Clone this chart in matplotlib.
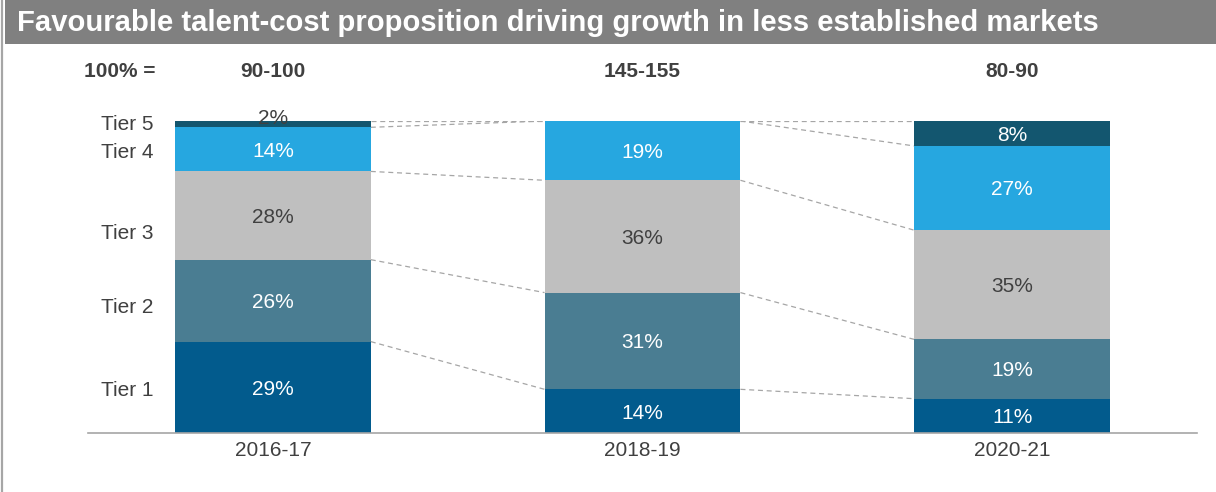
import matplotlib.pyplot as plt
from matplotlib.patches import Rectangle
from matplotlib.lines import Line2D

plt.rcParams['font.family'] = ['Liberation Sans', 'DejaVu Sans']

# data
periods = ['2016-17', '2018-19', '2020-21']
totals = ['90-100', '145-155', '80-90']
tiers = ['Tier 1', 'Tier 2', 'Tier 3', 'Tier 4', 'Tier 5']
tier1 = [29, 14, 11]
tier2 = [26, 31, 19]
tier3 = [28, 36, 35]
tier4 = [14, 19, 27]
tier5 = [2, 0, 8]
# where the tier names sit on the left (share of bar height)
tier_label_pos = [13.6, 40.1, 63.8, 89.8, 98.8]

colors = ['#025B8D', '#4A7D92', '#BFBFBF', '#26A7E0', '#13566F']
text_colors = ['white', 'white', '#404040', 'white', 'white']
TEXT = '#404040'

fig = plt.figure(figsize=(12.16, 4.92), dpi=100)

# title bar and left rule
fig.add_artist(Rectangle((5/1216, 1-44/492), 1, 44/492, transform=fig.transFigure,
						 facecolor='#808080', edgecolor='none'))
fig.add_artist(Line2D([2/1216, 2/1216], [0, 1], transform=fig.transFigure,
					  color='#A6A6A6', lw=1.6))
fig.text(17/1216, 1-23/492, 'Favourable talent-cost proposition driving growth in less established markets',
		 color='white', fontsize=21.1, fontweight='bold', va='center', ha='left')

ax = fig.add_axes([88/1216, 1-433/492, (1197-88)/1216, (433-121)/492])

series = [tier1, tier2, tier3, tier4, tier5]
n = len(periods)
x = list(range(n))
width = 0.53
sums = [sum(s[i] for s in series) for i in range(n)]

bottoms = [0.0] * n
bounds = [[0.0] for _ in range(n)]
for k, s in enumerate(series):
	h = [s[i] * 100.0 / sums[i] for i in range(n)]
	ax.bar(x, h, width=width, bottom=bottoms, color=colors[k], edgecolor='none')
	for i in range(n):
		if s[i] == 0:
			continue
		if h[i] < 4:
			ax.text(x[i], bottoms[i] + h[i] - 2.2, '%d%%' % s[i], ha='center', va='bottom',
					fontsize=15, color=TEXT)
		else:
			ax.text(x[i], bottoms[i] + h[i] / 2 - 0.6, '%d%%' % s[i], ha='center', va='center',
					fontsize=15, color=text_colors[k])
	bottoms = [bottoms[i] + h[i] for i in range(n)]
	for i in range(n):
		bounds[i].append(bottoms[i])

# dashed connectors between neighbouring bars
for i in range(n - 1):
	for b0, b1 in zip(bounds[i][1:], bounds[i + 1][1:]):
		ax.plot([x[i] + width / 2, x[i + 1] - width / 2], [b0, b1],
				color='#A6A6A6', lw=0.9, ls=(0, (4, 3)), zorder=0)

ax.set_xlim(-0.5, 2.5)
ax.set_ylim(0, 100)
ax.set_xticks(x)
ax.set_xticklabels(periods, fontsize=15, color=TEXT)
ax.set_yticks([])
ax.tick_params(length=0, axis='x', pad=6)
for sp in ['top', 'right', 'left']:
	ax.spines[sp].set_visible(False)
ax.spines['bottom'].set_color('#A6A6A6')
ax.spines['bottom'].set_linewidth(1.2)

# tier names on the left
for name, yp in zip(tiers, tier_label_pos):
	ax.text(-0.322, yp, name, ha='right', va='center', fontsize=15, color=TEXT)

# 100% = row
for i in range(n):
	ax.text(x[i], 115.8, totals[i], ha='center', va='center', fontsize=15,
			fontweight='bold', color=TEXT)
ax.text(-0.414, 115.8, '100% =', ha='center', va='center', fontsize=15,
		fontweight='bold', color=TEXT)

fig.savefig('out.png', dpi=100)
